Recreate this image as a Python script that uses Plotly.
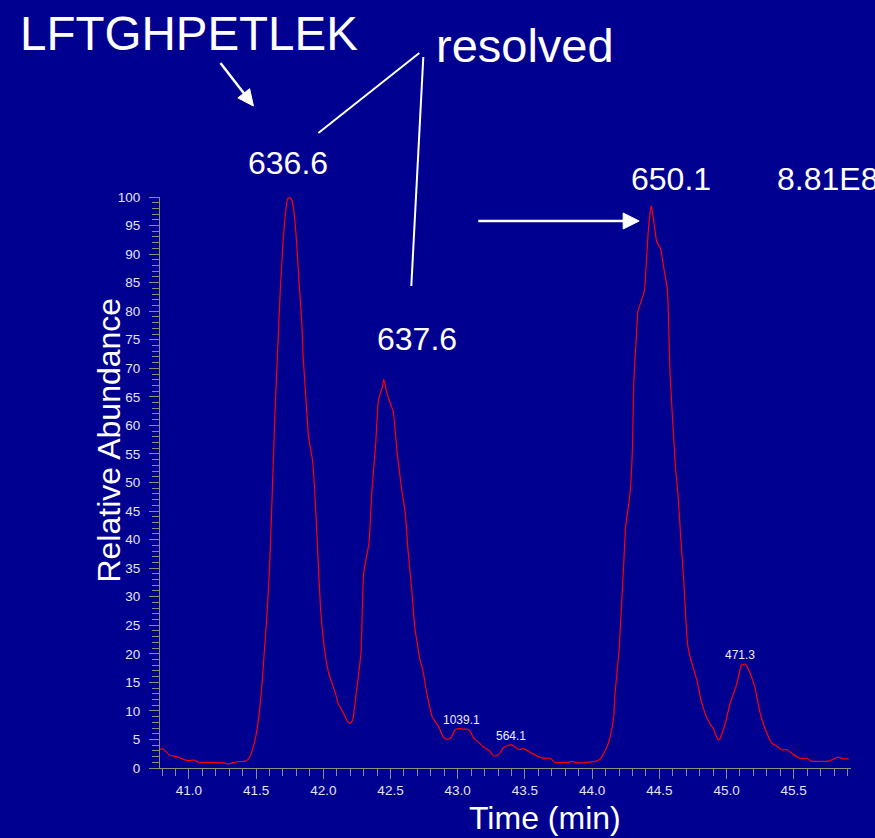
import plotly.graph_objects as go

# ---- data ----
time_min = [40.78, 40.81, 40.86, 40.91, 40.95, 40.99, 41.04, 41.07, 41.15, 41.26, 41.29, 41.33, 41.36,
            41.42, 41.44, 41.46, 41.48, 41.50, 41.52, 41.54, 41.56, 41.58, 41.60, 41.62, 41.64, 41.66,
            41.68, 41.70, 41.72, 41.735, 41.75, 41.765, 41.78, 41.80, 41.82, 41.84, 41.85, 41.87, 41.89,
            41.92, 41.94, 41.96, 41.98, 42.00, 42.02, 42.04, 42.07, 42.09, 42.11, 42.13, 42.15, 42.18,
            42.20, 42.22, 42.23, 42.25, 42.28, 42.30, 42.34, 42.36, 42.39, 42.41, 42.44, 42.45, 42.47,
            42.49, 42.52, 42.55, 42.58, 42.61, 42.63, 42.66, 42.68, 42.72, 42.74, 42.77, 42.81, 42.83,
            42.86, 42.89, 42.92, 42.95, 42.98, 43.01, 43.04, 43.07, 43.09, 43.12, 43.16, 43.19, 43.24,
            43.26, 43.28, 43.30, 43.32, 43.34, 43.37, 43.40, 43.43, 43.46, 43.48, 43.50, 43.55, 43.61,
            43.65, 43.69, 43.72, 43.81, 43.85, 43.91, 43.97, 44.03, 44.06, 44.08, 44.11, 44.12, 44.14,
            44.16, 44.17, 44.20, 44.23, 44.25, 44.28, 44.30, 44.31, 44.33, 44.34, 44.38, 44.39, 44.42,
            44.44, 44.46, 44.48, 44.51, 44.53, 44.56, 44.58, 44.62, 44.64, 44.66, 44.68, 44.71, 44.74,
            44.78, 44.81, 44.85, 44.88, 44.90, 44.92, 44.94, 44.95, 44.99, 45.03, 45.06, 45.08, 45.11,
            45.14, 45.17, 45.21, 45.25, 45.30, 45.34, 45.37, 45.41, 45.45, 45.50, 45.55, 45.60, 45.63,
            45.76, 45.79, 45.83, 45.87, 45.91]
abundance = [3.3, 3.3, 2.2, 2.0, 1.6, 1.3, 1.4, 1.0, 1.0, 0.9, 0.7, 0.9, 1.1,
             1.2, 1.5, 2.3, 3.8, 5.8, 9.0, 13.5, 20.0, 26.5, 35.0, 48.0, 62.0, 73.0,
             83.7, 92.0, 97.5, 99.7, 99.9, 99.5, 97.7, 92.5, 85.0, 78.0, 72.0, 65.0, 58.0,
             53.9, 46.9, 37.0, 27.7, 22.4, 19.0, 16.6, 14.5, 13.1, 11.3, 10.5, 9.6, 8.2,
             7.8, 8.5, 10.2, 14.0, 20.1, 34.1, 39.4, 48.1, 56.9, 64.4, 66.8, 68.1, 66.0,
             64.4, 62.4, 55.1, 49.3, 44.6, 38.2, 30.6, 24.7, 18.9, 17.2, 13.1, 9.0, 8.2,
             7.2, 5.5, 5.0, 5.3, 6.7, 6.9, 6.8, 6.8, 6.5, 5.2, 4.4, 3.7, 2.9,
             2.3, 2.1, 2.3, 2.8, 3.6, 3.9, 4.1, 3.6, 3.2, 3.4, 3.3, 2.6, 1.9,
             1.7, 1.7, 1.0, 1.0, 1.1, 0.9, 1.0, 1.2, 1.6, 2.3, 3.7, 4.3, 6.1,
             8.8, 13.0, 20.5, 33.4, 42.4, 47.6, 56.0, 67.6, 76.0, 79.9, 82.8, 83.8, 94.8,
             98.5, 95.5, 92.2, 90.9, 88.0, 83.8, 68.9, 52.7, 47.6, 40.0, 33.4, 21.7, 18.5,
             15.4, 11.9, 9.0, 7.6, 7.0, 5.8, 4.9, 5.1, 7.8, 11.6, 13.5, 15.1, 18.0,
             18.2, 16.9, 14.2, 9.6, 6.1, 4.3, 3.9, 3.2, 3.2, 2.3, 1.7, 1.7, 1.2,
             1.2, 1.5, 1.9, 1.6, 1.6]

peak_labels = ["1039.1", "564.1", "471.3"]
peak_label_time = [43.03, 43.40, 45.10]
peak_label_abund = [6.8, 4.1, 18.2]

x_tick_vals = [41.0, 41.5, 42.0, 42.5, 43.0, 43.5, 44.0, 44.5, 45.0, 45.5]
y_tick_vals = list(range(0, 101, 5))

title_text = "LFTGHPETLEK"
note_text = "resolved"
mz_labels = ["636.6", "637.6", "650.1"]
nl_text = "8.81E8"

# ---- geometry (pixels) ----
W, H = 875, 838
L, R, T, B = 159.5, 851.0, 197.0, 768.0
BG = "#000090"
FONT = "Arial, Liberation Sans, sans-serif"


def px(xp):
    return (xp - L) / (R - L)


def py(yp):
    return (B - yp) / (B - T)


fig = go.Figure()
fig.add_trace(go.Scatter(x=time_min, y=abundance, mode="lines",
                         line=dict(color="#ff0000", width=1.2, shape="spline", smoothing=0.4),
                         hoverinfo="skip", showlegend=False))

axis_col = "#8e8e7c"
tick_font = dict(family=FONT, size=13.5, color="#e4e4f2")

fig.update_layout(
    width=W, height=H,
    margin=dict(l=L, r=W - R, t=T, b=H - B, pad=0),
    paper_bgcolor=BG, plot_bgcolor=BG,
    font=dict(family=FONT, color="white"),
    showlegend=False,
    xaxis=dict(range=[40.785, 45.926], tickvals=x_tick_vals, ticktext=[f"{v:.1f}" for v in x_tick_vals],
               ticks="outside", ticklen=10, tickcolor=axis_col, tickwidth=1,
               minor=dict(dtick=0.1, tick0=41.0, ticks="outside", ticklen=7, tickcolor=axis_col, tickwidth=1),
               showline=True, linecolor=axis_col, linewidth=1, showgrid=False, zeroline=False,
               tickfont=tick_font, ticklabelstandoff=0),
    yaxis=dict(range=[0, 100], tickvals=y_tick_vals, ticks="outside", ticklen=10, tickcolor=axis_col,
               tickwidth=1,
               minor=dict(dtick=1, tick0=0, ticks="outside", ticklen=7, tickcolor=axis_col, tickwidth=1),
               showline=True, linecolor=axis_col, linewidth=1, showgrid=False, zeroline=False,
               tickfont=tick_font, ticklabelstandoff=6),
)

ann = []
# peak labels (data coords)
for lab, tx, ay in zip(peak_labels, peak_label_time, peak_label_abund):
    ann.append(dict(x=tx, y=ay, xref="x", yref="y", text=lab, showarrow=False, yshift=9,
                    xanchor="center", yanchor="middle", font=dict(family=FONT, size=12, color="#eeeeff")))


def text_at(x, y, text, size, xanchor="center", textangle=0):
    ann.append(dict(x=px(x), y=py(y), xref="paper", yref="paper", text=text, showarrow=False,
                    xanchor=xanchor, yanchor="middle", textangle=textangle,
                    font=dict(family=FONT, size=size, color="white")))


text_at(17, 33, title_text, 47.5, xanchor="left")
text_at(434, 45, note_text, 47, xanchor="left")
text_at(287.5, 163, mz_labels[0], 32)
text_at(416.5, 339, mz_labels[1], 32)
text_at(670.5, 179, mz_labels[2], 32)
text_at(775, 179, nl_text, 32, xanchor="left")
text_at(108, 440, "Relative Abundance", 32, textangle=-90)
text_at(545, 818, "Time (min)", 32)

shapes = []


def seg(x0, y0, x1, y1, w=2):
    shapes.append(dict(type="line", xref="paper", yref="paper", x0=px(x0), y0=py(y0), x1=px(x1), y1=py(y1),
                       line=dict(color="white", width=w)))


def tri(pts):
    path = "M " + " L ".join(f"{px(a)},{py(b)}" for a, b in pts) + " Z"
    shapes.append(dict(type="path", xref="paper", yref="paper", path=path,
                       fillcolor="white", line=dict(color="white", width=1)))


# arrow from title to first peak
seg(220, 63, 244, 94, 2.5)
tri([(253, 106), (237.4, 97.9), (249.2, 88.7)])
# lines from "resolved"
seg(318, 133, 419, 53, 2)
seg(423, 57, 411, 286, 2)
# horizontal arrow to 650.1 peak
seg(478, 221, 624, 221, 2.5)
tri([(639, 221), (623, 213), (623, 229)])

fig.update_layout(annotations=ann, shapes=shapes)
fig.write_html("out.html", config={"displayModeBar": False},
               post_script="document.body.style.margin='0';document.body.style.overflow='hidden';"
                           "document.body.style.background='" + BG + "';")
